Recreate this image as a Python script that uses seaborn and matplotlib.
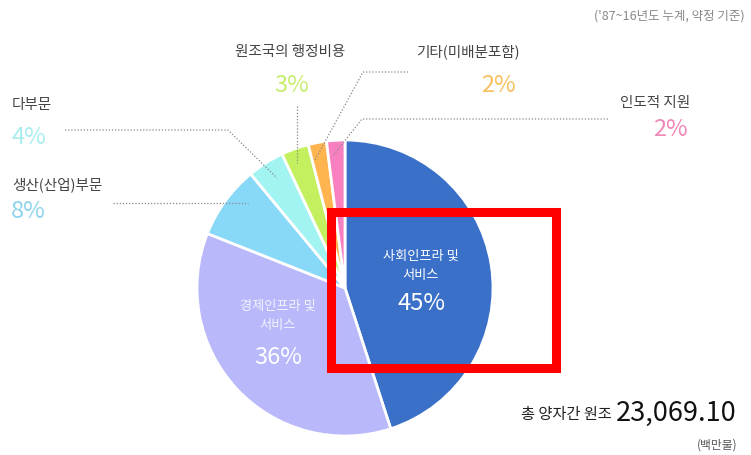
import matplotlib.pyplot as plt
from matplotlib.patches import Rectangle
import seaborn as sns

sns.set_theme(style="white")
plt.rcParams['font.family'] = ['Noto Sans CJK KR', 'DejaVu Sans']

# data, clockwise from 12 o'clock
sectors = ['사회인프라 및\n서비스', '경제인프라 및\n서비스', '생산(산업)부문', '다부문',
           '원조국의 행정비용', '기타(미배분포함)', '인도적 지원']
shares = [45, 36, 8, 4, 3, 2, 2]
colors = ['#3a70c8', '#b8b8fa', '#88d8f8', '#a2f4f2', '#c4f060', '#ffb450', '#f880c0']
pct_colors = ['white', 'white', '#8cd4ee', '#a8ecec', '#c8ee70', '#f8c060', '#f088b8']
total_aid = 23069.10

W, H = 751, 455
fig = plt.figure(figsize=(W / 100, H / 100), dpi=100)
ax = fig.add_axes([0, 0, 1, 1])

def Y(y):  # image row -> data y
    return H - y

ax.pie(shares, colors=colors, center=(345, Y(288)), radius=148, startangle=90,
       counterclock=False, wedgeprops=dict(edgecolor='white', linewidth=2))
ax.set_xlim(0, W)
ax.set_ylim(0, H)
ax.set_aspect('equal')
ax.axis('off')

gray = '#444444'
dot = dict(color='#888888', lw=0.9, ls=(0, (1, 1.5)))
lab = dict(fontsize=10.5, color=gray, va='center')
pct = dict(fontsize=17, va='center')

# leader lines
ax.plot([65, 228, 277], [Y(130), Y(130), Y(178)], **dot)
ax.plot([113, 248], [Y(203), Y(203)], **dot)
ax.plot([297, 297], [Y(106), Y(163)], **dot)
ax.plot([408, 363, 315], [Y(72), Y(72), Y(160)], **dot)
ax.plot([608, 362, 333], [Y(119), Y(119), Y(156)], **dot)

# outside labels
ax.text(12, Y(105), sectors[3], **lab)
ax.text(11, Y(137), f'{shares[3]}%', color=pct_colors[3], **pct)
ax.text(12, Y(185), sectors[2], **lab)
ax.text(11, Y(212), f'{shares[2]}%', color=pct_colors[2], **pct)
ax.text(290, Y(52), sectors[4], ha='center', **lab)
ax.text(292, Y(86), f'{shares[4]}%', color=pct_colors[4], ha='center', **pct)
ax.text(468, Y(52), sectors[5], ha='center', **lab)
ax.text(498, Y(86), f'{shares[5]}%', color=pct_colors[5], ha='center', **pct)
ax.text(655, Y(103), sectors[6], ha='center', **lab)
ax.text(670, Y(130), f'{shares[6]}%', color=pct_colors[6], ha='center', **pct)

# inside labels
ax.text(421, Y(266), sectors[0], fontsize=9.5, color='white', va='center', ha='center',
        linespacing=1.6)
ax.text(422, Y(303), f'{shares[0]}%', color='white', ha='center', **pct)
ax.text(278, Y(316), sectors[1], fontsize=9.5, color='#f4f4ff', va='center', ha='center',
        linespacing=1.6)
ax.text(278, Y(357), f'{shares[1]}%', color='white', ha='center', **pct)

# notes
ax.text(745, Y(16), "('87~16년도 누계, 약정 기준)", fontsize=9, color='#888888',
        va='center', ha='right')
ax.text(612, Y(415), '총 양자간 원조', fontsize=11, color='#222222', va='center', ha='right')
ax.text(737, Y(413), f'{total_aid:,.2f}', fontsize=19.5, color='#111111', va='center', ha='right')
ax.text(737, Y(445), '(백만불)', fontsize=8.5, color='#555555', va='center', ha='right')

# highlight box
ax.add_patch(Rectangle((331, Y(368)), 225, 156, fill=False, edgecolor='#ff0000', lw=6.5))

fig.savefig('out.png', dpi=100)
